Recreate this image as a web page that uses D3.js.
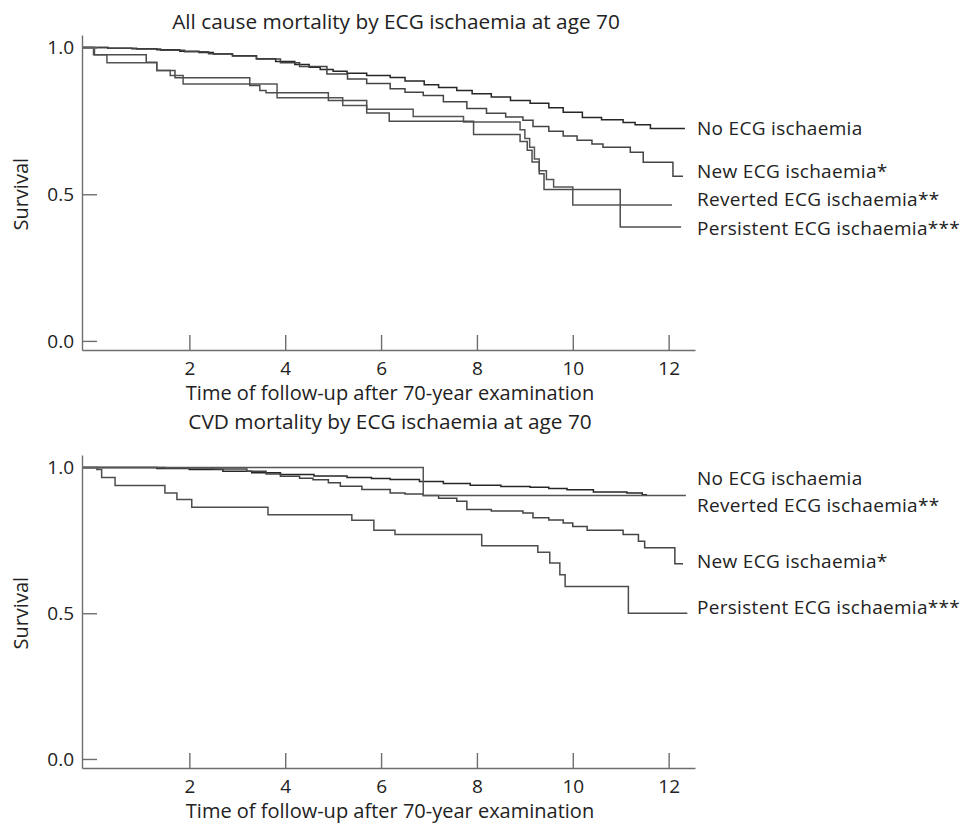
<!DOCTYPE html>
<html>
<head>
<meta charset="utf-8">
<script src="https://cdn.jsdelivr.net/npm/d3@7"></script>
<style>
  body { margin: 0; background: #fff; }
  svg { display: block; }
  text { font-family: "Open Sans", Lato, sans-serif; fill: #222; }
</style>
</head>
<body>
<script>
// Kaplan-Meier survival curves, two panels

//axis settings
var xDomain = [-0.24, 12.55];
var yDomain = [-0.031, 1.043];
var xTicks = [2, 4, 6, 8, 10, 12];
var yTicks = [0, 0.5, 1];
var groupNames = ["No ECG ischaemia", "New ECG ischaemia*", "Reverted ECG ischaemia**", "Persistent ECG ischaemia***"];

//all cause mortality - time of step and survival after step
var allNoTime = [0, 0.3, 0.8, 1.32, 1.8, 2.2, 2.5, 2.9, 3.4, 3.8, 4.2, 4.5, 4.73, 5.0, 5.29, 5.7, 6.19, 6.5, 6.9, 7.2, 7.58, 7.9, 8.3, 8.7, 9.11, 9.5, 9.8, 10.2, 10.6, 11.05, 11.3, 11.62, 12.34];
var allNoSurv = [1, 0.998, 0.996, 0.993, 0.988, 0.983, 0.978, 0.972, 0.962, 0.953, 0.942, 0.933, 0.925, 0.919, 0.913, 0.905, 0.898, 0.886, 0.873, 0.864, 0.854, 0.843, 0.832, 0.82, 0.81, 0.795, 0.78, 0.762, 0.754, 0.745, 0.737, 0.724, 0.724];

var allNewTime = [0, 0.3, 0.9, 1.4, 1.9, 2.4, 2.9, 3.4, 3.9, 4.3, 4.87, 5.3, 5.7, 6.19, 6.5, 6.88, 7.3, 7.79, 8.2, 8.6, 8.96, 9.17, 9.5, 9.8, 10.09, 10.4, 10.63, 11.2, 11.47, 12.09, 12.3];
var allNewSurv = [1, 0.998, 0.995, 0.991, 0.986, 0.979, 0.971, 0.961, 0.948, 0.936, 0.91, 0.893, 0.878, 0.86, 0.848, 0.837, 0.815, 0.792, 0.776, 0.763, 0.752, 0.731, 0.715, 0.699, 0.684, 0.671, 0.66, 0.643, 0.609, 0.561, 0.561];

var allRevTime = [0, 0.28, 1.32, 1.6, 1.87, 3.83, 5.2, 5.7, 6.67, 7.72, 8.9, 9.0, 9.1, 9.2, 9.3, 9.45, 9.6, 10.0, 12.07];
var allRevSurv = [0.976, 0.948, 0.922, 0.905, 0.876, 0.829, 0.803, 0.79, 0.765, 0.746, 0.72, 0.69, 0.66, 0.62, 0.58, 0.55, 0.525, 0.463, 0.463];

var allPerTime = [0.02, 1.1, 1.32, 1.7, 3.26, 3.47, 3.6, 4.9, 5.7, 6.17, 7.93, 8.9, 9.05, 9.15, 9.3, 9.4, 10.99, 12.26];
var allPerSurv = [0.976, 0.95, 0.922, 0.897, 0.871, 0.854, 0.846, 0.82, 0.777, 0.749, 0.704, 0.68, 0.65, 0.61, 0.57, 0.516, 0.388, 0.388];

//cvd mortality
var cvdNoTime = [0, 1.32, 2.0, 2.7, 3.3, 3.9, 4.6, 5.29, 5.8, 6.19, 6.8, 7.3, 7.86, 8.5, 9.11, 9.5, 9.88, 10.43, 11.13, 11.45, 11.55];
var cvdNoSurv = [1, 0.997, 0.993, 0.987, 0.982, 0.976, 0.971, 0.966, 0.962, 0.959, 0.952, 0.945, 0.939, 0.935, 0.932, 0.928, 0.924, 0.916, 0.913, 0.907, 0.907];

var cvdNewTime = [0, 1.5, 2.5, 3.2, 3.6, 3.9, 4.3, 4.58, 4.9, 5.15, 5.6, 6.19, 6.5, 6.88, 7.2, 7.58, 7.79, 8.3, 8.96, 9.17, 9.5, 9.8, 10.0, 10.3, 11.05, 11.37, 11.5, 12.13, 12.3];
var cvdNewSurv = [1, 0.998, 0.995, 0.987, 0.978, 0.97, 0.963, 0.958, 0.948, 0.936, 0.925, 0.913, 0.909, 0.904, 0.895, 0.884, 0.856, 0.851, 0.844, 0.828, 0.82, 0.81, 0.798, 0.785, 0.77, 0.747, 0.725, 0.67, 0.67];

var cvdRevTime = [0, 6.88, 12.36];
var cvdRevSurv = [1, 0.904, 0.904];

var cvdPerTime = [0, 0.07, 0.17, 0.45, 1.49, 1.74, 2.05, 3.64, 5.39, 5.85, 6.29, 8.1, 9.27, 9.52, 9.73, 9.84, 11.16, 12.39];
var cvdPerSurv = [1, 0.993, 0.966, 0.938, 0.913, 0.89, 0.864, 0.838, 0.819, 0.785, 0.77, 0.732, 0.709, 0.672, 0.632, 0.592, 0.5, 0.5];

//where the group names sit (survival units), same order as groupNames
var allLabelPos = [0.724, 0.577, 0.482, 0.384];
var cvdLabelPos = [0.962, 0.677, 0.87, 0.519];

var lineColors = ["#262626", "#444", "#555", "#4d4d4d"];

var svg = d3.select("body").append("svg")
  .attr("width", 967)
  .attr("height", 827);

svg.append("rect")
  .attr("width", 967)
  .attr("height", 827)
  .attr("fill", "#fff");

//build point list for a curve
function toPoints(times, survs) {
  var pts = [[xDomain[0], 1]];
  for (var i = 0; i < times.length; i++) {
    pts.push([times[i], survs[i]]);
  }
  return pts;
}

function drawPanel(opts) {
  var x = d3.scaleLinear().domain(xDomain).range([82, 695]);
  var y = d3.scaleLinear().domain(yDomain).range([opts.bottom, opts.top]);

  var g = svg.append("g");

  //title
  g.append("text")
    .attr("x", opts.titleX)
    .attr("y", opts.titleY)
    .attr("text-anchor", "middle")
    .style("font-size", "20.8px")
    .text(opts.title);

  //curves
  var line = d3.line()
    .x(function(d) { return x(d[0]); })
    .y(function(d) { return y(d[1]); })
    .curve(d3.curveStepAfter);

  g.selectAll(".km")
    .data(opts.series)
    .enter()
    .append("path")
    .attr("class", "km")
    .attr("fill", "none")
    .attr("stroke", function(d, i) { return lineColors[i]; })
    .attr("stroke-width", 1.5)
    .attr("d", function(d) { return line(toPoints(d[0], d[1])); });

  //group labels
  g.selectAll(".lab")
    .data(groupNames)
    .enter()
    .append("text")
    .attr("class", "lab")
    .attr("x", 697)
    .attr("y", function(d, i) { return y(opts.labelPos[i]); })
    .attr("dy", "0.35em")
    .style("font-size", "19px")
    .style("letter-spacing", "0.3px")
    .text(function(d) { return d; });

  //left axis, ticks pointing inwards
  var yAxis = d3.axisRight(y)
    .tickValues(yTicks)
    .tickSize(15)
    .tickSizeOuter(0)
    .tickFormat(d3.format(".1f"));

  var ya = g.append("g")
    .attr("transform", "translate(82,0)")
    .call(yAxis);
  ya.selectAll("text")
    .attr("x", -8)
    .attr("text-anchor", "end")
    .style("font-size", "19px");

  //bottom axis, ticks pointing up
  var xAxis = d3.axisTop(x)
    .tickValues(xTicks)
    .tickSize(15)
    .tickSizeOuter(0)
    .tickFormat(d3.format("d"));

  var xa = g.append("g")
    .attr("transform", "translate(0," + opts.bottom + ")")
    .call(xAxis);
  xa.selectAll("text")
    .attr("y", 18)
    .attr("dy", "0.35em")
    .style("font-size", "19px");

  g.selectAll(".domain, .tick line")
    .attr("stroke", "#6e6e6e")
    .attr("stroke-width", 1.4);

  //axis labels
  g.append("text")
    .attr("transform", "translate(" + 21 + "," + y(0.5) + ") rotate(-90)")
    .attr("text-anchor", "middle")
    .attr("dy", "0.35em")
    .style("font-size", "20px")
    .text("Survival");

  g.append("text")
    .attr("x", 390)
    .attr("y", opts.bottom + 50)
    .attr("text-anchor", "middle")
    .style("font-size", "20px")
    .text("Time of follow-up after 70-year examination");
}

drawPanel({
  title: "All cause mortality by ECG ischaemia at age 70",
  titleX: 396, titleY: 29,
  top: 35, bottom: 350,
  series: [[allNoTime, allNoSurv], [allNewTime, allNewSurv], [allRevTime, allRevSurv], [allPerTime, allPerSurv]],
  labelPos: allLabelPos
});

drawPanel({
  title: "CVD mortality by ECG ischaemia at age 70",
  titleX: 390, titleY: 429,
  top: 455, bottom: 768,
  series: [[cvdNoTime, cvdNoSurv], [cvdNewTime, cvdNewSurv], [cvdRevTime, cvdRevSurv], [cvdPerTime, cvdPerSurv]],
  labelPos: cvdLabelPos
});
</script>
</body>
</html>
